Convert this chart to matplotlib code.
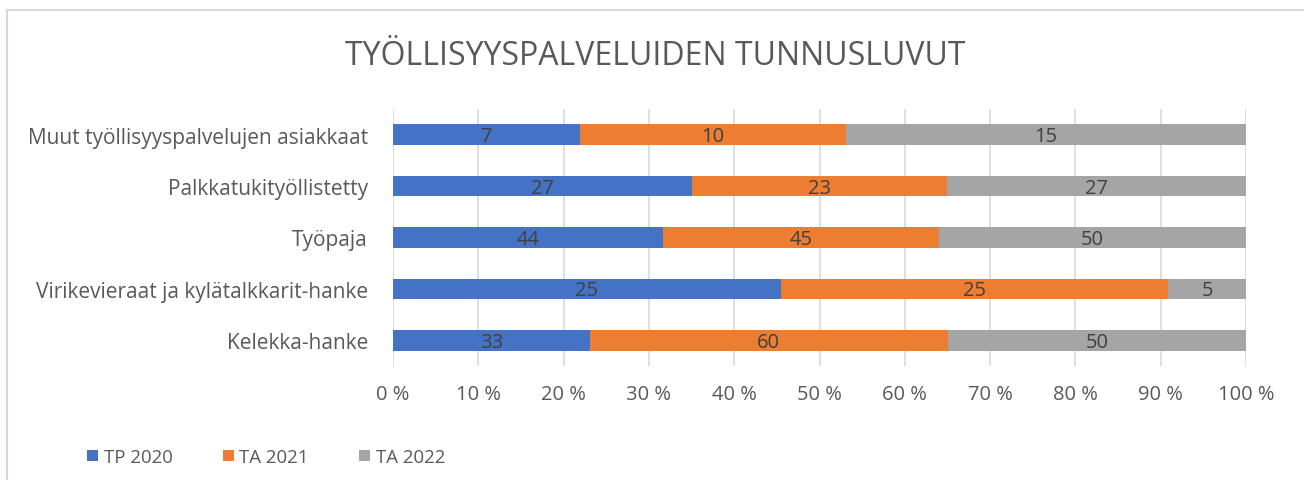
import matplotlib.pyplot as plt
from matplotlib.patches import Rectangle
import numpy as np

# --- data ---
categories = ['Muut työllisyyspalvelujen asiakkaat', 'Palkkatukityöllistetty',
              'Työpaja', 'Virikevieraat ja kylätalkkarit-hanke', 'Kelekka-hanke']
series_names = ['TP 2020', 'TA 2021', 'TA 2022']
tp_2020 = [7, 27, 44, 25, 33]
ta_2021 = [10, 23, 45, 25, 60]
ta_2022 = [15, 27, 50, 5, 50]
colors = ['#4472C4', '#ED7D31', '#A5A5A5']

plt.rcParams['font.family'] = ['Open Sans', 'DejaVu Sans']
txt = '#595959'

vals = np.array([tp_2020, ta_2021, ta_2022], dtype=float)
totals = vals.sum(axis=0)
shares = vals / totals * 100

fig = plt.figure(figsize=(13.04, 4.81), dpi=100)
# chart frame (light grey border)
fig.patches.append(Rectangle((7 / 1304, -0.1), 1.2, 1 - 11 / 481 + 0.1,
                             transform=fig.transFigure, fill=False,
                             edgecolor='#D9D9D9', linewidth=1.5))

ax = fig.add_axes([393 / 1304, 1 - 367 / 481, (1246 - 393) / 1304, (367 - 110) / 481])
y = np.arange(len(categories))
left = np.zeros(len(categories))
for i, name in enumerate(series_names):
    ax.barh(y, shares[i], left=left, height=0.4, color=colors[i], label=name, zorder=3)
    for j in range(len(categories)):
        ax.text(left[j] + shares[i][j] / 2, y[j] + 0.03, f'{int(vals[i][j])}',
                ha='center', va='center', color='#404040', fontsize=14.5, zorder=4)
    left += shares[i]

ax.set_xlim(0, 100)
ax.set_ylim(len(categories) - 0.5, -0.5)
ax.set_xticks(np.arange(0, 101, 10))
ax.set_xticklabels([f'{v} %' for v in range(0, 101, 10)])
ax.set_yticks(y)
ax.set_yticklabels(categories)
ax.grid(axis='x', color='#D9D9D9', linewidth=1.2, zorder=0)
for s in ax.spines.values():
    s.set_visible(False)
ax.tick_params(axis='both', length=0, colors=txt, labelsize=14.5)
ax.tick_params(axis='y', pad=18, labelsize=15)
ax.tick_params(axis='x', pad=13)

fig.text(655 / 1304, 1 - 57 / 481, 'TYÖLLISYYSPALVELUIDEN TUNNUSLUVUT',
         ha='center', va='center', fontsize=23, color=txt)

handles, labels = ax.get_legend_handles_labels()
fig.legend(handles, labels, loc='center left', bbox_to_anchor=(70 / 1304, 1 - 458 / 481),
           ncol=3, frameon=False, fontsize=13.4, labelcolor=txt,
           handlelength=0.6, handleheight=0.6, handletextpad=0.3, columnspacing=2.7)

fig.savefig('out.png', dpi=100)
